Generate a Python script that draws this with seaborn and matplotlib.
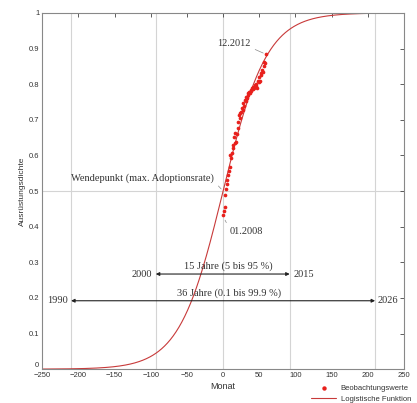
import numpy as np
import pandas as pd
import matplotlib.pyplot as plt
import matplotlib.transforms as mtransforms
import seaborn as sns

# Beobachtungswerte (Monat 0 = 01.2008 ... Monat 59 = 12.2012)
monate = list(range(60))
dichte = [0.433, 0.445, 0.456, 0.489, 0.507, 0.520, 0.531, 0.545, 0.556, 0.568,
          0.600, 0.592, 0.606, 0.620, 0.630, 0.652, 0.664, 0.636, 0.638, 0.660,
          0.676, 0.695, 0.713, 0.705, 0.718, 0.722, 0.732, 0.728, 0.746, 0.740,
          0.756, 0.752, 0.765, 0.760, 0.774, 0.770, 0.779, 0.775, 0.784, 0.780,
          0.788, 0.786, 0.793, 0.790, 0.798, 0.795, 0.800, 0.790, 0.810, 0.805,
          0.820, 0.810, 0.830, 0.825, 0.840, 0.835, 0.850, 0.863, 0.860, 0.884]

k_rate = 0.033
x_wende = 0.0

# markierte Jahre (Monate relativ zu 01.2008)
jahr_monate = [-210, -93, 92, 210]
jahr_labels = ['1990', '2000', '2015', '2026']

xticks = list(range(-250, 251, 50))
yticks = [0, 0.1, 0.2, 0.3, 0.4, 0.5, 0.6, 0.7, 0.8, 0.9, 1]
ytick_labels = ['0', '0.1', '0.2', '0.3', '0.4', '0.5', '0.6', '0.7', '0.8', '0.9', '1']

obs = pd.DataFrame({'Monat': monate, 'Dichte': dichte})
xs = np.linspace(-250, 250, 501)
fit = pd.DataFrame({'Monat': xs, 'Dichte': 1 / (1 + np.exp(-k_rate * (xs - x_wende)))})

sns.set_style('white')
plt.rcParams['font.family'] = ['Liberation Sans', 'DejaVu Sans']

fig = plt.figure(figsize=(4.17, 4.03), dpi=100)
ax = fig.add_axes([0.101, 0.084, 0.868, 0.884])

grau = '#d4d4d4'
for xm in jahr_monate + [0]:
    ax.axvline(xm, color=grau, lw=0.8, zorder=0)
ax.axhline(0.5, color=grau, lw=0.8, zorder=0)

sns.lineplot(data=fit, x='Monat', y='Dichte', ax=ax, color='#c83a3a', lw=0.8,
             label='Logistische Funktion', zorder=2)
sns.scatterplot(data=obs, x='Monat', y='Dichte', ax=ax, color='#e8201c', s=7,
                linewidth=0, label='Beobachtungswerte', zorder=3)

ax.set_xlim(-250, 250)
ax.set_ylim(0, 1)
ax.set_xticks(xticks)
ax.set_yticks(yticks)
ax.set_yticklabels(ytick_labels)
ax.tick_params(direction='in', length=3, width=0.6, labelsize=5.5, colors='#444444',
               top=True, right=True, labelcolor='#333333', pad=2)
# "0" etwas anheben, damit es nicht auf "-250" sitzt
lab0 = ax.get_yticklabels()[0]
lab0.set_transform(lab0.get_transform() + mtransforms.ScaledTranslation(0, 3 / 72, fig.dpi_scale_trans))
for sp in ax.spines.values():
    sp.set_color('#888888')
    sp.set_linewidth(0.8)
ax.set_xlabel('Monat', fontsize=6.5, color='#333333', labelpad=2)
ax.set_ylabel('Ausrüstungsdichte', fontsize=6, color='#333333', labelpad=2)

serif = ['Liberation Serif', 'DejaVu Serif']
tcol = '#333333'
leader = dict(arrowstyle='-', color='#888888', lw=0.5, shrinkA=1, shrinkB=2)
ax.annotate('12.2012', xy=(59, 0.884), xytext=(15, 0.913), fontsize=7.5, family=serif,
            color=tcol, va='center', ha='center',
            arrowprops=dict(leader, relpos=(1.0, 0.1)))
ax.annotate('Wendepunkt (max. Adoptionsrate)', xy=(0, 0.5), xytext=(-111, 0.535), fontsize=7.5,
            family=serif, color=tcol, va='center', ha='center',
            arrowprops=dict(leader, relpos=(1.0, 0.2)))
ax.annotate('01.2008', xy=(1, 0.425), xytext=(32, 0.386), fontsize=7.5, family=serif,
            color=tcol, va='center', ha='center',
            arrowprops=dict(leader, relpos=(0.0, 0.8)))

pfeil = dict(arrowstyle='<|-|>', color='#222222', lw=0.8, mutation_scale=5, shrinkA=0, shrinkB=0)
for (x1, x2), y, txt, ty in [((jahr_monate[1], jahr_monate[2]), 0.267, '15 Jahre (5 bis 95 %)', 0.288),
                             ((jahr_monate[0], jahr_monate[3]), 0.192, '36 Jahre (0.1 bis 99.9 %)', 0.212)]:
    ax.annotate('', xy=(x1, y), xytext=(x2, y), arrowprops=pfeil)
    ax.text((x1 + x2) / 2 + 8, ty, txt, fontsize=7.5, family=serif, color=tcol,
            ha='center', va='center')
ax.text(jahr_monate[1] - 5, 0.267, jahr_labels[1], fontsize=7.5, family=serif, color=tcol,
        ha='right', va='center')
ax.text(jahr_monate[2] + 5, 0.267, jahr_labels[2], fontsize=7.5, family=serif, color=tcol,
        ha='left', va='center')
ax.text(jahr_monate[0] - 5, 0.192, jahr_labels[0], fontsize=7.5, family=serif, color=tcol,
        ha='right', va='center')
ax.text(jahr_monate[3] + 3, 0.192, jahr_labels[3], fontsize=7.5, family=serif, color=tcol,
        ha='left', va='center')

h, l = ax.get_legend_handles_labels()
ax.legend(h[::-1], l[::-1], loc='upper left', bbox_to_anchor=(0.74, -0.04), frameon=False,
          fontsize=5.5, labelcolor='#333333', handlelength=3.2, handletextpad=0.6,
          borderaxespad=0, borderpad=0.2, labelspacing=0.45, markerscale=1.2)

fig.savefig('out.png', dpi=100)
